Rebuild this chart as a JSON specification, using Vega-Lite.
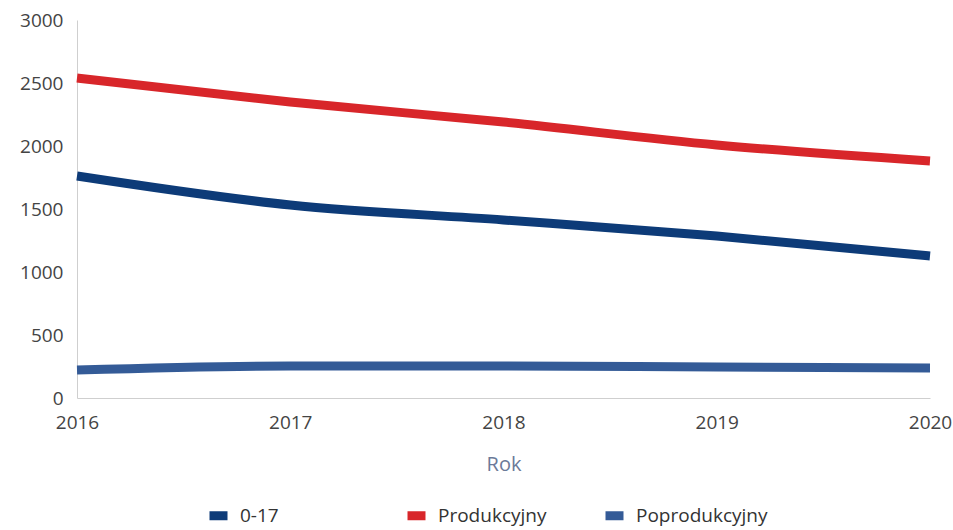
{
  "$schema": "https://vega.github.io/schema/vega-lite/v6.json",
  "width": 853,
  "height": 378,
  "autosize": "none",
  "padding": {"left": 77, "top": 20, "right": 23, "bottom": 132},
  "background": "white",
  "config": {
    "view": {"stroke": null},
    "font": "Open Sans"
  },
  "data": {
    "values": [
      {"rok": 2016, "grupa": "0-17", "wartosc": 1762},
      {"rok": 2017, "grupa": "0-17", "wartosc": 1532},
      {"rok": 2018, "grupa": "0-17", "wartosc": 1413},
      {"rok": 2019, "grupa": "0-17", "wartosc": 1286},
      {"rok": 2020, "grupa": "0-17", "wartosc": 1127},
      {"rok": 2016, "grupa": "Produkcyjny", "wartosc": 2540},
      {"rok": 2017, "grupa": "Produkcyjny", "wartosc": 2349},
      {"rok": 2018, "grupa": "Produkcyjny", "wartosc": 2190},
      {"rok": 2019, "grupa": "Produkcyjny", "wartosc": 2008},
      {"rok": 2020, "grupa": "Produkcyjny", "wartosc": 1881},
      {"rok": 2016, "grupa": "Poprodukcyjny", "wartosc": 222},
      {"rok": 2017, "grupa": "Poprodukcyjny", "wartosc": 254},
      {"rok": 2018, "grupa": "Poprodukcyjny", "wartosc": 254},
      {"rok": 2019, "grupa": "Poprodukcyjny", "wartosc": 246},
      {"rok": 2020, "grupa": "Poprodukcyjny", "wartosc": 238}
    ]
  },
  "mark": {"type": "line", "strokeWidth": 9, "interpolate": "monotone", "strokeCap": "butt"},
  "encoding": {
    "x": {
      "field": "rok",
      "type": "quantitative",
      "scale": {"domain": [2016, 2020], "nice": false, "zero": false},
      "axis": {
        "values": [2016, 2017, 2018, 2019, 2020],
        "format": "d",
        "title": "Rok",
        "grid": false,
        "ticks": false,
        "domainColor": "#cfcfcf",
        "labelFontSize": 19,
        "labelColor": "#444444",
        "labelPadding": 15,
        "labelFlush": false,
        "titleFontSize": 20,
        "titleFontWeight": "normal",
        "titleColor": "#6b7a99",
        "titlePadding": 22
      }
    },
    "y": {
      "field": "wartosc",
      "type": "quantitative",
      "scale": {"domain": [0, 3000], "nice": false},
      "axis": {
        "values": [0, 500, 1000, 1500, 2000, 2500, 3000],
        "format": "d",
        "title": null,
        "grid": false,
        "ticks": false,
        "domainColor": "#cfcfcf",
        "labelFontSize": 19,
        "labelColor": "#444444",
        "labelPadding": 14
      }
    },
    "color": {
      "field": "grupa",
      "type": "nominal",
      "scale": {
        "domain": ["0-17", "Produkcyjny", "Poprodukcyjny"],
        "range": ["#0d3b78", "#d8262a", "#345b97"]
      },
      "legend": {
        "title": null,
        "orient": "none",
        "direction": "horizontal",
        "columns": 3,
        "gridAlign": "all",
        "legendX": 128,
        "legendY": 482,
        "symbolType": "stroke",
        "symbolStrokeWidth": 9,
        "symbolSize": 324,
        "labelFontSize": 19,
        "labelColor": "#333333",
        "labelOffset": 8,
        "columnPadding": 17
      }
    }
  }
}
